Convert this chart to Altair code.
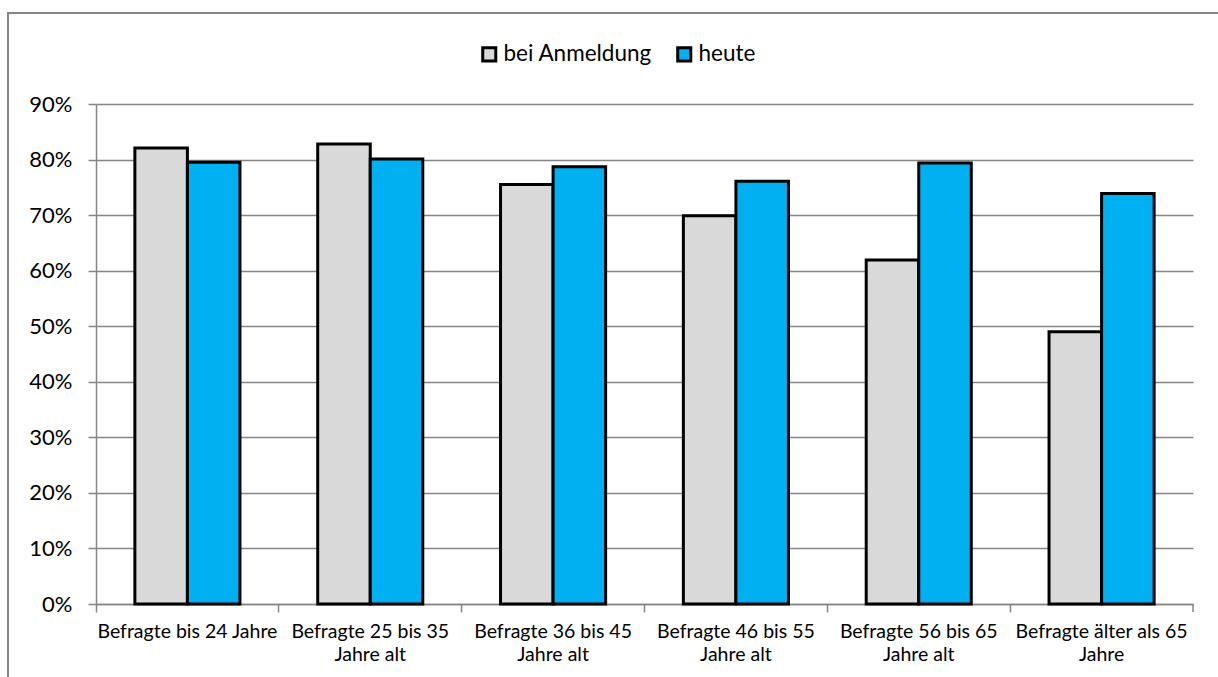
import altair as alt
import pandas as pd

# Age groups (a "|" marks where the axis label wraps onto a second line)
categories = [
    "Befragte bis 24 Jahre",
    "Befragte 25 bis 35|Jahre alt",
    "Befragte 36 bis 45|Jahre alt",
    "Befragte 46 bis 55|Jahre alt",
    "Befragte 56 bis 65|Jahre alt",
    "Befragte älter als 65|Jahre",
]
series = ["bei Anmeldung", "heute"]
bei_anmeldung = [0.821, 0.828, 0.755, 0.699, 0.619, 0.490]
heute = [0.795, 0.801, 0.787, 0.761, 0.794, 0.739]
y_ticks = [0.0, 0.1, 0.2, 0.3, 0.4, 0.5, 0.6, 0.7, 0.8, 0.9]
colors = ["#D9D9D9", "#00B0F0"]

rows = []
for cat, a, b in zip(categories, bei_anmeldung, heute):
    rows.append({"Gruppe": cat, "Zeitpunkt": series[0], "Anteil": a})
    rows.append({"Gruppe": cat, "Zeitpunkt": series[1], "Anteil": b})
df = pd.DataFrame(rows)

W, H = 1097, 500
FONT = "Lato"
AXIS_GRAY = "#868686"

bars = alt.Chart(df).mark_bar(stroke="black", strokeWidth=3).encode(
    x=alt.X(
        "Gruppe:N",
        sort=categories,
        scale=alt.Scale(paddingInner=0, paddingOuter=0),
        axis=alt.Axis(
            title=None,
            labelAngle=0,
            bandPosition=0,
            labelExpr="split(datum.label, '|')",
            labelFont=FONT,
            labelFontSize=19.5,
            labelColor="black",
            labelLineHeight=23,
            labelPadding=10,
            labelLimit=300,
            tickSize=8,
            tickColor=AXIS_GRAY,
            tickWidth=1.5,
            domainColor=AXIS_GRAY,
            domainWidth=1.5,
            grid=False,
        ),
    ),
    xOffset=alt.XOffset(
        "Zeitpunkt:N",
        sort=series,
        scale=alt.Scale(paddingInner=0, paddingOuter=0.74),
    ),
    y=alt.Y(
        "Anteil:Q",
        scale=alt.Scale(domain=[0, 0.9], nice=False),
        axis=alt.Axis(
            title=None,
            values=y_ticks,
            format=".0%",
            labelFont=FONT,
            labelFontSize=22,
            labelColor="black",
            labelPadding=16,
            tickSize=8,
            tickColor=AXIS_GRAY,
            tickWidth=1.5,
            domainColor=AXIS_GRAY,
            domainWidth=1.5,
            gridColor=AXIS_GRAY,
            gridWidth=1.5,
        ),
    ),
    color=alt.Color(
        "Zeitpunkt:N",
        sort=series,
        scale=alt.Scale(domain=series, range=colors),
        legend=alt.Legend(
            title=None,
            orient="none",
            direction="horizontal",
            legendX=382,
            legendY=-61,
            symbolType="square",
            symbolSize=170,
            symbolStrokeColor="black",
            symbolStrokeWidth=3,
            symbolOpacity=1,
            labelFont=FONT,
            labelFontSize=22.5,
            labelColor="black",
            labelOffset=3,
            columnPadding=19,
        ),
    ),
)

# closing tick at the right end of the category axis
end_tick = alt.Chart(pd.DataFrame({"k": [0]})).mark_rule(
    color=AXIS_GRAY, strokeWidth=1.5
).encode(x=alt.value(W), y=alt.value(H), y2=alt.value(H + 8))

# outer frame around the whole chart
frame = alt.Chart(pd.DataFrame({"k": [0]})).mark_rect(
    fillOpacity=0, stroke=AXIS_GRAY, strokeWidth=2
).encode(
    x=alt.value(-88), y=alt.value(-91), x2=alt.value(W + 60), y2=alt.value(H + 120)
)

chart = alt.layer(frame, bars, end_tick).properties(
    width=W,
    height=H,
    autosize=alt.AutoSizeParams(type="none"),
    padding={"left": 96, "top": 104, "right": 25, "bottom": 73},
    background="white",
).configure_view(stroke=None)

chart.save("out.html", embed_options={"renderer": "svg", "actions": False})
